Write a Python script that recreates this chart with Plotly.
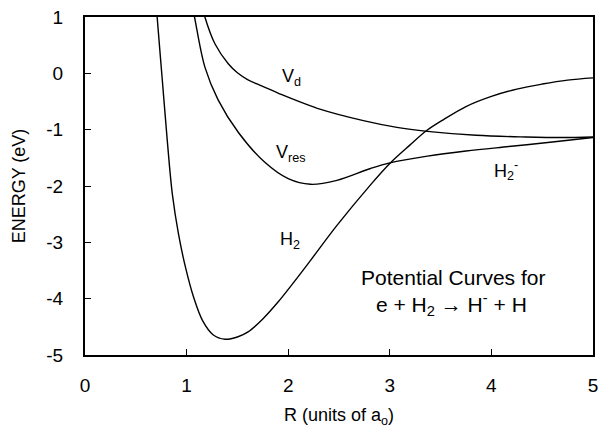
import plotly.graph_objects as go

# Potential curves (R in units of a0, energy in eV)
H2_R = [0.70, 0.71, 0.76, 0.81, 0.86, 0.92, 0.99, 1.07, 1.16, 1.26, 1.378, 1.50, 1.605, 1.75, 1.90, 2.05, 2.22, 2.48, 2.81, 3.0, 3.2, 3.36, 3.53, 3.75, 4.0, 4.25, 4.5, 4.75, 5.0]
H2_E = [1.3, 1.0, -0.1, -1.2, -2.15, -2.85, -3.45, -3.98, -4.40, -4.64, -4.72, -4.68, -4.59, -4.36, -4.06, -3.72, -3.32, -2.70, -1.98, -1.60, -1.27, -1.02, -0.82, -0.59, -0.41, -0.28, -0.19, -0.12, -0.08]

Vres_R = [1.05, 1.078, 1.18, 1.31, 1.51, 1.77, 2.0, 2.22, 2.48, 2.81, 3.0, 3.37, 3.75, 4.17, 4.6, 5.0]
Vres_E = [1.25, 1.0, 0.11, -0.47, -1.05, -1.58, -1.87, -1.97, -1.90, -1.69, -1.59, -1.47, -1.38, -1.30, -1.22, -1.14]

Vd_R = [1.16, 1.18, 1.28, 1.41, 1.50, 1.60, 1.72, 1.90, 2.32, 2.74, 3.07, 3.37, 3.85, 4.34, 4.7, 5.0]
Vd_E = [1.15, 1.0, 0.52, 0.17, 0.01, -0.11, -0.21, -0.35, -0.64, -0.84, -0.96, -1.03, -1.10, -1.13, -1.14, -1.13]

X_TICKS = [0, 1, 2, 3, 4, 5]
Y_TICKS = [-5, -4, -3, -2, -1, 0, 1]

FONT = "Liberation Sans, Arial, sans-serif"

fig = go.Figure()
for xs, ys in [(H2_R, H2_E), (Vres_R, Vres_E), (Vd_R, Vd_E)]:
    fig.add_trace(go.Scatter(x=xs, y=ys, mode="lines",
                             line=dict(color="black", width=1.4, shape="spline", smoothing=1.0),
                             showlegend=False, hoverinfo="skip"))

labels = [
    (2.03, -0.08, "V<sub>d</sub>", 18),
    (2.03, -1.43, "V<sub>res</sub>", 18),
    (2.02, -2.97, "H<sub>2</sub>", 18),
    (4.14, -1.73, "H<sub>2</sub><sup>-</sup>", 18),
    (3.62, -3.62, "Potential Curves for", 21),
    (3.61, -4.10, "e + H<sub>2</sub> \u2192 H<sup>-</sup> + H", 21),
]
for x, y, t, s in labels:
    fig.add_annotation(x=x, y=y, xref="x", yref="y", text=t, showarrow=False,
                       font=dict(family=FONT, size=s, color="black"))

axis_common = dict(showgrid=False, zeroline=False, showline=True, linecolor="black",
                   linewidth=2, mirror=True, ticks="inside", ticklen=6, tickwidth=1.2,
                   tickcolor="black", tickfont=dict(family=FONT, size=19, color="black"))

fig.update_xaxes(range=[0, 5], tickvals=X_TICKS, ticktext=[str(v) for v in X_TICKS],
                 title=dict(text="R (units of a<sub>o</sub>)", font=dict(family=FONT, size=18, color="black"), standoff=14),
                 ticklabelstandoff=12, **axis_common)
fig.update_yaxes(range=[-5, 1], tickvals=Y_TICKS, ticktext=[str(v) for v in Y_TICKS],
                 title=dict(text="ENERGY (eV)", font=dict(family=FONT, size=18, color="black"), standoff=16),
                 ticklabelstandoff=16, **axis_common)

fig.update_layout(width=605, height=429, margin=dict(l=85, r=7, t=16, b=70),
                  plot_bgcolor="white", paper_bgcolor="white",
                  font=dict(family=FONT, color="black"))

fig.write_html("out.html")
